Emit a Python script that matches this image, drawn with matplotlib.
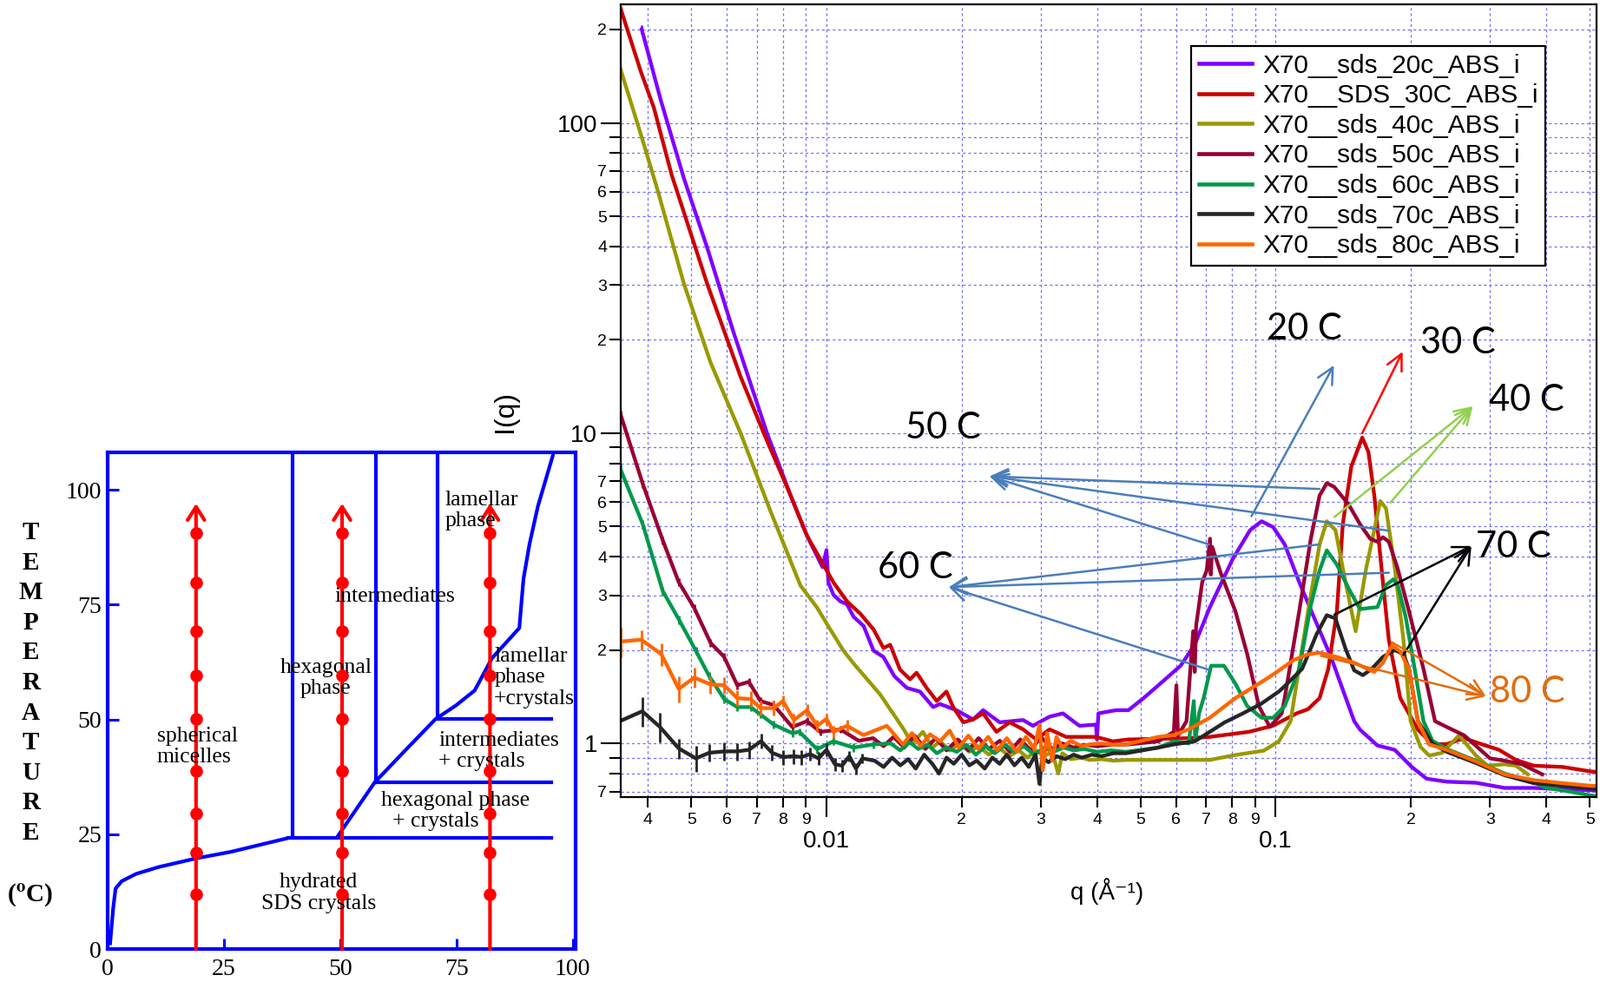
import matplotlib
matplotlib.use('Agg')
from matplotlib import pyplot as plt
from matplotlib.ticker import FixedLocator, FixedFormatter

plt.rcParams['font.family'] = ['Liberation Sans', 'DejaVu Sans']
plt.rcParams['mathtext.fontset'] = 'stix'

# ---------------- phase diagram data (wt% SDS, temperature in C) ----------------
krafft_x = [0.5, 1.2, 1.7, 3.0, 6.1, 11.0, 19.1, 26.5, 38.8]
krafft_y = [0.9, 9.0, 13.2, 14.8, 16.4, 17.9, 19.8, 21.2, 24.2]
hexb_x = [49.6, 57.4, 64.0, 70.5, 74.8, 78.9, 82.6, 88.5, 89.4, 90.7, 92.5, 95.7]
hexb_y = [24.8, 36.3, 43.3, 50.1, 53.0, 56.3, 63.3, 69.9, 80.6, 88.2, 96.4, 107.4]
vert_x = [39.7, 57.6, 70.9]
vert_y0 = [24.2, 36.3, 50.1]
horiz_y = [24.2, 36.3, 50.1]
horiz_x0 = [38.8, 57.6, 71.3]
horiz_x1 = 95.3
path_x = [19.0, 50.4, 82.2]
path_T = [11.9, 21.1, 29.5, 38.7, 50.1, 59.6, 69.2, 79.8, 90.6]
path_top = 97.0

# ---------------- SAXS curves ----------------
labels = ['X70__sds_20c_ABS_i', 'X70__SDS_30C_ABS_i', 'X70__sds_40c_ABS_i',
          'X70__sds_50c_ABS_i', 'X70__sds_60c_ABS_i', 'X70__sds_70c_ABS_i',
          'X70__sds_80c_ABS_i']
colors = ['#7F00FF', '#CC0000', '#999900', '#990033', '#00994C', '#262626', '#FF6600']

q20 = [0.00388, 0.00428, 0.00482, 0.00543, 0.00622, 0.00738, 0.00832, 0.00905, 0.0098, 0.0100,
       0.0101, 0.01037, 0.01074, 0.01111, 0.01149, 0.0121, 0.01273, 0.01339, 0.01415, 0.0151,
       0.01614, 0.01728, 0.01789, 0.01947, 0.0212, 0.02232, 0.0243, 0.0274, 0.0288, 0.03137,
       0.0336, 0.03656, 0.0398, 0.0400, 0.0403, 0.0441, 0.047, 0.0508, 0.0548, 0.0614,
       0.066, 0.0712, 0.0802, 0.0877, 0.093, 0.0987, 0.1047, 0.1128, 0.1215, 0.1327,
       0.1495, 0.154, 0.1684, 0.184, 0.201, 0.2166, 0.2402, 0.279, 0.323, 0.375,
       0.44, 0.512]
I20 = [200, 118, 66.0, 39.5, 21.0, 9.96, 6.3, 4.67, 3.7, 4.2,
       3.3, 3.01, 2.87, 2.81, 2.56, 2.39, 1.99, 1.90, 1.65, 1.51,
       1.47, 1.31, 1.34, 1.28, 1.195, 1.28, 1.17, 1.19, 1.14, 1.22,
       1.25, 1.14, 1.15, 1.03, 1.25, 1.28, 1.28, 1.40, 1.54, 1.78,
       2.08, 2.73, 3.93, 4.87, 5.20, 4.98, 4.38, 3.31, 2.56, 1.90,
       1.18, 1.108, 0.985, 0.954, 0.839, 0.77, 0.753, 0.747, 0.719, 0.719,
       0.712, 0.706]
err20 = [7]

q30 = [0.00348, 0.00387, 0.00413, 0.00452, 0.00543, 0.00644, 0.00726, 0.00832, 0.00905, 0.01037,
       0.01111, 0.01189, 0.01273, 0.01339, 0.01386, 0.01458, 0.01535, 0.01587, 0.01671, 0.0176,
       0.0185, 0.01914, 0.02016, 0.0212, 0.02232, 0.0239, 0.02557, 0.0274, 0.0293, 0.03137,
       0.03415, 0.03656, 0.0398, 0.04335, 0.047, 0.064, 0.0713, 0.0871, 0.0985, 0.1113,
       0.118, 0.1252, 0.1309, 0.1368, 0.141, 0.1473, 0.1558, 0.1608, 0.1657, 0.1732,
       0.1785, 0.1893, 0.2072, 0.2232, 0.2402, 0.2626, 0.287, 0.3139, 0.3424, 0.375,
       0.4347, 0.504, 0.518]
I30 = [234, 145, 111.8, 68.2, 30.2, 15.2, 9.96, 6.3, 4.67, 3.30,
       2.87, 2.62, 2.33, 2.03, 2.08, 1.73, 1.61, 1.69, 1.51, 1.37,
       1.47, 1.31, 1.17, 1.195, 1.25, 1.09, 1.17, 1.11, 1.03, 1.11,
       1.05, 1.05, 1.05, 1.016, 1.03, 1.04, 1.05, 1.09, 1.14, 1.25,
       1.29, 1.40, 1.74, 2.67, 5.09, 7.81, 9.68, 8.7, 6.3, 3.31,
       2.16, 1.40, 1.108, 0.995, 0.995, 1.04, 0.995, 0.954, 0.885, 0.848,
       0.84, 0.812, 0.81]

q40 = [0.00348, 0.00387, 0.0042, 0.00482, 0.00552, 0.00644, 0.0075, 0.00875, 0.00953, 0.01,
       0.01091, 0.01149, 0.01316, 0.01483, 0.0155, 0.0164, 0.0172, 0.0179, 0.0188, 0.0198,
       0.0208, 0.0218, 0.023, 0.0242, 0.0255, 0.0268, 0.028, 0.0293, 0.0305, 0.0318,
       0.0328, 0.0335, 0.035, 0.037, 0.0385, 0.041, 0.0435, 0.0464, 0.0593, 0.0713,
       0.0806, 0.094, 0.1016, 0.1079, 0.118, 0.1252, 0.1299, 0.1358, 0.143, 0.1506,
       0.1586, 0.1709, 0.176, 0.184, 0.1924, 0.1996, 0.21, 0.2195, 0.2348, 0.2558,
       0.279, 0.296, 0.323, 0.3424, 0.364]
I40 = [149, 91, 61.3, 30.2, 16.9, 10.0, 5.62, 3.23, 2.74, 2.44,
       1.99, 1.81, 1.44, 1.115, 1.0, 1.09, 0.97, 1.016, 0.95, 1.0,
       0.94, 0.98, 0.92, 0.97, 0.91, 0.95, 0.90, 0.95, 0.91, 0.94,
       0.80, 0.93, 0.89, 0.90, 0.885, 0.89, 0.88, 0.885, 0.885, 0.885,
       0.916, 0.948, 1.016, 1.18, 2.67, 4.38, 5.20, 4.87, 3.31, 2.30,
       3.61, 6.04, 5.72, 3.69, 2.16, 1.18, 0.975, 0.914, 0.933, 1.062,
       0.914, 0.848, 0.857, 0.848, 0.795]

q50 = [0.00348, 0.0039, 0.00432, 0.00469, 0.00508, 0.00552, 0.00592, 0.00633, 0.00672, 0.00713,
       0.00763, 0.00839, 0.00905, 0.00969, 0.01074, 0.0118, 0.0127, 0.0134, 0.0141, 0.0149,
       0.0157, 0.0166, 0.0175, 0.0185, 0.0196, 0.0207, 0.0218, 0.023, 0.0243, 0.0256,
       0.027, 0.0285, 0.03, 0.0318, 0.0335, 0.0355, 0.0375, 0.04, 0.043, 0.047,
       0.0548, 0.0593, 0.0601, 0.0606, 0.0633, 0.0655, 0.0660, 0.0665, 0.0686, 0.0702,
       0.0714, 0.0717, 0.0722, 0.0755, 0.0813, 0.0864, 0.0917, 0.097, 0.1031, 0.1047,
       0.1128, 0.1197, 0.1252, 0.1299, 0.1348, 0.1451, 0.154, 0.1622, 0.1684, 0.1732,
       0.1785, 0.1865, 0.1979, 0.2132, 0.2262, 0.2402, 0.2626, 0.3, 0.323, 0.3533,
       0.392]
I50 = [11.5, 6.87, 4.52, 3.31, 2.73, 2.11, 1.90, 1.54, 1.58, 1.37,
       1.33, 1.13, 1.18, 1.09, 1.11, 1.02, 1.04, 0.98, 1.05, 0.97,
       1.06, 0.96, 1.04, 0.95, 1.03, 0.95, 1.04, 0.96, 1.02, 0.94,
       1.03, 0.95, 1.05, 0.96, 1.0, 0.97, 0.99, 0.98, 0.99, 0.993,
       1.016, 1.09, 1.54, 1.06, 1.18, 2.3, 1.7, 2.4, 3.31, 3.61,
       4.57, 3.5, 4.3, 3.53, 2.67, 1.94, 1.32, 1.13, 1.25, 1.40,
       2.67, 4.57, 6.3, 6.90, 6.72, 5.91, 5.09, 4.57, 4.47, 4.62,
       4.47, 3.69, 2.67, 1.74, 1.18, 1.13, 1.062, 0.895, 0.88, 0.857,
       0.795]
err50 = [0.35, 0.2, 0.13, 0.1, 0.08, 0.06, 0.055, 0.045, 0.045, 0.04, 0.04, 0.035, 0.035, 0.03, 0.03]

q60 = [0.00348, 0.0039, 0.00432, 0.0047, 0.00512, 0.00548, 0.00592, 0.00633, 0.00678, 0.00713,
       0.00763, 0.00839, 0.0087, 0.00953, 0.01037, 0.01149, 0.01273, 0.0139, 0.0146, 0.0153,
       0.016, 0.0168, 0.0176, 0.0185, 0.0195, 0.0205, 0.0215, 0.0226, 0.0237, 0.025,
       0.0262, 0.0275, 0.029, 0.0305, 0.032, 0.0337, 0.0355, 0.0375, 0.04, 0.043,
       0.0464, 0.0548, 0.0593, 0.064, 0.0657, 0.0662, 0.0675, 0.0691, 0.0718, 0.0767,
       0.0813, 0.0864, 0.093, 0.0987, 0.1047, 0.1128, 0.1197, 0.1252, 0.1299, 0.1368,
       0.1451, 0.154, 0.1608, 0.1684, 0.176, 0.1827, 0.1869, 0.1946, 0.2038, 0.2132,
       0.2232, 0.2402, 0.2558, 0.279, 0.323, 0.375, 0.4, 0.45, 0.512]
I60 = [7.65, 5.09, 3.10, 2.50, 1.99, 1.65, 1.39, 1.31, 1.31, 1.24,
       1.15, 1.08, 1.09, 0.959, 1.016, 0.97, 0.993, 1.0, 0.95, 1.01,
       0.96, 0.99, 0.93, 0.97, 0.94, 0.99, 0.92, 0.98, 0.93, 0.99,
       0.94, 0.98, 0.92, 0.97, 0.94, 0.97, 0.95, 0.96, 0.94, 0.95,
       0.94, 0.97, 1.016, 1.0, 1.37, 1.02, 1.25, 1.40, 1.78, 1.78,
       1.56, 1.32, 1.21, 1.21, 1.32, 1.74, 2.79, 3.61, 4.19, 3.77,
       3.17, 2.71, 2.73, 2.75, 3.24, 3.38, 3.24, 2.56, 1.74, 1.18,
       1.02, 0.96, 0.925, 0.88, 0.80, 0.75, 0.72, 0.70, 0.677]
err60 = [0.25, 0.17, 0.10, 0.08, 0.06, 0.05, 0.045, 0.04, 0.04, 0.035, 0.035, 0.03, 0.03, 0.03, 0.03, 0.03, 0.03]

q70 = [0.00347, 0.00389, 0.00426, 0.00469, 0.00512, 0.00548, 0.00592, 0.00633, 0.00672, 0.00715,
       0.00757, 0.008, 0.00845, 0.0088, 0.0092, 0.0096, 0.01, 0.01044, 0.01083, 0.01124,
       0.01163, 0.01202, 0.0128, 0.0134, 0.014, 0.0146, 0.0152, 0.0158, 0.0165, 0.0172,
       0.0178, 0.0185, 0.0192, 0.02, 0.0208, 0.0216, 0.0225, 0.0234, 0.0243, 0.0252,
       0.0262, 0.0272, 0.0282, 0.0292, 0.0298, 0.0302, 0.0312, 0.0325, 0.034, 0.0355,
       0.037, 0.039, 0.041, 0.0435, 0.0464, 0.0548, 0.0593, 0.066, 0.0713, 0.077,
       0.0845, 0.0926, 0.1016, 0.1047, 0.1145, 0.1233, 0.1299, 0.1358, 0.143, 0.1495,
       0.1563, 0.1636, 0.1732, 0.184, 0.1924, 0.1979, 0.2072, 0.2232, 0.2402, 0.279,
       0.323, 0.375, 0.4347, 0.504, 0.518]
I70 = [1.18, 1.27, 1.13, 0.964, 0.895, 0.933, 0.943, 0.943, 0.954, 1.017,
       0.933, 0.904, 0.91, 0.904, 0.924, 0.895, 0.954, 0.857, 0.848, 0.91,
       0.83, 0.895, 0.88, 0.84, 0.90, 0.85, 0.89, 0.83, 0.92, 0.86,
       0.80, 0.90, 0.86, 0.92, 0.85, 0.88, 0.83, 0.90, 0.86, 0.92,
       0.85, 0.90, 0.84, 0.92, 0.74, 0.90, 0.87, 0.91, 0.89, 0.92,
       0.90, 0.92, 0.91, 0.93, 0.93, 0.97, 0.993, 1.016, 1.09, 1.17,
       1.25, 1.34, 1.47, 1.53, 1.74, 2.25, 2.59, 2.53, 2.02, 1.72,
       1.66, 1.74, 1.90, 2.0, 1.94, 1.74, 1.18, 1.0, 0.94, 0.865,
       0.79, 0.745, 0.73, 0.715, 0.715]
err70 = [0.12, 0.14, 0.125, 0.07, 0.087, 0.06, 0.065, 0.06, 0.06, 0.055, 0.055, 0.05, 0.05, 0.05,
         0.045, 0.045, 0.045, 0.04, 0.04, 0.035, 0.035, 0.03]

q80 = [0.00348, 0.00387, 0.00429, 0.00469, 0.00508, 0.00552, 0.00592, 0.00633, 0.00678, 0.00713,
       0.00763, 0.008, 0.00846, 0.00905, 0.00953, 0.01, 0.01037, 0.01111, 0.01209, 0.0128,
       0.01362, 0.0148, 0.0155, 0.0162, 0.017, 0.0179, 0.0188, 0.0197, 0.0207, 0.0218,
       0.0229, 0.024, 0.0252, 0.0265, 0.0278, 0.029, 0.0298, 0.0303, 0.031, 0.0318,
       0.0325, 0.0335, 0.035, 0.037, 0.0385, 0.041, 0.0435, 0.0464, 0.0548, 0.0593,
       0.064, 0.0713, 0.0813, 0.0944, 0.1, 0.1098, 0.1185, 0.1252, 0.1368, 0.1495,
       0.1657, 0.1732, 0.1814, 0.1893, 0.1979, 0.2072, 0.2194, 0.2402, 0.279, 0.323,
       0.375, 0.4347, 0.504, 0.518]
I80 = [2.13, 2.16, 1.94, 1.50, 1.63, 1.55, 1.54, 1.40, 1.39, 1.30,
       1.30, 1.37, 1.19, 1.28, 1.14, 1.2, 1.09, 1.14, 1.064, 1.1,
       1.14, 0.993, 1.08, 0.98, 1.07, 1.016, 1.1, 0.97, 1.06, 0.96,
       1.05, 0.95, 1.04, 0.94, 1.05, 0.96, 1.15, 0.82, 1.08, 0.88,
       1.05, 0.97, 1.02, 0.98, 0.993, 1.0, 0.99, 0.993, 1.05, 1.064,
       1.11, 1.21, 1.40, 1.60, 1.69, 1.86, 1.94, 1.96, 1.90, 1.82,
       1.70, 1.82, 2.07, 1.98, 1.74, 1.18, 0.993, 0.954, 0.875, 0.795,
       0.762, 0.745, 0.73, 0.73]
err80 = [0.23, 0.16, 0.16, 0.14, 0.12, 0.10, 0.09, 0.08, 0.08, 0.07, 0.07, 0.06, 0.06, 0.06,
         0.05, 0.05, 0.05, 0.05]

curves = [(q20, I20, err20), (q30, I30, []), (q40, I40, []), (q50, I50, err50),
          (q60, I60, err60), (q70, I70, err70), (q80, I80, err80)]

# temperature labels and arrows pointing to peaks
tag_text = ['20 C', '30 C', '40 C', '50 C', '60 C', '70 C', '80 C']
tag_pos = [(0.116, 21.6), (0.254, 19.5), (0.362, 12.8), (0.0182, 10.4),
           (0.0158, 3.69), (0.3375, 4.31), (0.363, 1.462)]
tag_color = ['black'] * 6 + ['#E46C0A']
arrow_head = [(0.1347, 16.55), (0.1916, 18.31), (0.2745, 12.21), (0.02307, 7.26),
              (0.01873, 3.19), (0.2726, 4.33), (0.2936, 1.419)]
arrow_tails = [[(0.0883, 5.40)],
               [(0.1558, 10.0)],
               [(0.1351, 5.37), (0.1800, 5.97)],
               [(0.1251, 6.61), (0.1786, 4.85), (0.0710, 4.38)],
               [(0.1251, 4.38), (0.1786, 3.55), (0.0710, 1.728)],
               [(0.1351, 2.60), (0.1924, 1.93)],
               [(0.1261, 1.916), (0.1813, 2.12)]]
arrow_color = ['#4A7EBB', '#FF0000', '#92D050', '#4A7EBB', '#4A7EBB', 'black', '#E46C0A']

W, H = 1843, 1131
fig = plt.figure(figsize=(W / 100, H / 100), dpi=100)

# ================= left: phase diagram =================
blue = '#0000FF'
serif = 'Liberation Serif'
pd = fig.add_axes([124 / W, 1 - 1093.3 / H, (663 - 124) / W, (1093.3 - 520.6) / H])
pd.set_xlim(0, 100.6)
pd.set_ylim(0, 108.2)
for s in pd.spines.values():
    s.set_color(blue)
    s.set_linewidth(3)
pd.plot(krafft_x, krafft_y, color=blue, lw=3, solid_capstyle='butt')
pd.plot(hexb_x, hexb_y, color=blue, lw=3)
for x0, y0 in zip(vert_x, vert_y0):
    pd.plot([x0, x0], [y0, 108.2], color=blue, lw=3)
for y0, x0 in zip(horiz_y, horiz_x0):
    pd.plot([x0, horiz_x1], [y0, y0], color=blue, lw=3)
for x in path_x:
    pd.annotate('', xy=(x, path_top), xytext=(x, 0),
                arrowprops=dict(arrowstyle='->,head_length=0.55,head_width=0.35',
                                color='red', lw=3, mutation_scale=20, shrinkA=0, shrinkB=0))
    pd.plot([x] * len(path_T), path_T, 'o', color='red', ms=9.5, zorder=4)

pd.set_xticks([0, 25, 50, 75, 100])
pd.set_yticks([0, 25, 50, 75, 100])
pd.tick_params(direction='in', length=9, width=2.2, color=blue, labelsize=20)
pd.tick_params(axis='x', pad=8)
pd.tick_params(axis='y', pad=5)
for lab in pd.get_xticklabels() + pd.get_yticklabels():
    lab.set_family(serif)

region_kw = dict(family=serif, fontsize=18.5, va='center', linespacing=1.15)
pd.text(10.6, 44.1, 'spherical\nmicelles', ha='left', **region_kw)
pd.text(46.9, 59.0, 'hexagonal\nphase', ha='center', multialignment='center', **region_kw)
pd.text(61.8, 76.7, 'intermediates', ha='center', **region_kw)
pd.text(72.5, 95.5, 'lamellar\nphase', ha='left', **region_kw)
pd.text(83.1, 59.1, 'lamellar\nphase\n+crystals', ha='left', **region_kw)
pd.text(71.2, 43.1, 'intermediates\n+ crystals', ha='left', **region_kw)
pd.text(58.7, 30.1, 'hexagonal phase\n  + crystals', ha='left', **region_kw)
pd.text(45.4, 12.2, 'hydrated\nSDS crystals', ha='center', multialignment='center', **region_kw)

for i, ch in enumerate('TEMPERATURE'):
    fig.text(35.7 / W, 1 - (613.5 + 34.6 * i) / H, ch, ha='center', va='center',
             family=serif, fontsize=21, fontweight='bold')
fig.text(35 / W, 1 - 1031 / H, r'($^{\mathbf{o}}$C)', ha='center', va='center',
         family=serif, fontsize=21, fontweight='bold')

# ================= right: scattering curves =================
ax = fig.add_axes([714.5 / W, 1 - 917.5 / H, (1839.3 - 714.5) / W, (917.5 - 5) / H])
ax.set_xscale('log')
ax.set_yscale('log')

for (q, I, err), c, lab in zip(curves, colors, labels):
    ax.plot(q, I, color=c, lw=3.1, label=lab, solid_joinstyle='round')
    if err:
        n = len(err)
        ax.errorbar(q[:n], I[:n], yerr=err, fmt='none', ecolor=c, elinewidth=2, capsize=0)

ax.set_xlim(0.003476, 0.5183)
ax.set_ylim(0.674, 241)

xmaj = [0.01, 0.1]
xmin = [0.004, 0.005, 0.006, 0.007, 0.008, 0.009,
        0.02, 0.03, 0.04, 0.05, 0.06, 0.07, 0.08, 0.09,
        0.2, 0.3, 0.4, 0.5]
ax.xaxis.set_major_locator(FixedLocator(xmaj))
ax.xaxis.set_major_formatter(FixedFormatter(['0.01', '0.1']))
ax.xaxis.set_minor_locator(FixedLocator(xmin))
ax.xaxis.set_minor_formatter(FixedFormatter(['4', '5', '6', '7', '8', '9',
                                             '2', '3', '4', '5', '6', '7', '8', '9',
                                             '2', '3', '4', '5']))
ymaj = [1, 10, 100]
ymin = [0.7, 0.8, 0.9, 2, 3, 4, 5, 6, 7, 8, 9, 20, 30, 40, 50, 60, 70, 80, 90, 200]
ax.yaxis.set_major_locator(FixedLocator(ymaj))
ax.yaxis.set_major_formatter(FixedFormatter(['1', '10', '100']))
ax.yaxis.set_minor_locator(FixedLocator(ymin))
ax.yaxis.set_minor_formatter(FixedFormatter(['7', '', '', '2', '3', '4', '5', '6', '7', '', '',
                                             '2', '3', '4', '5', '6', '7', '', '', '2']))

ax.tick_params(axis='x', which='major', direction='out', length=16.5, width=1.5,
               labelsize=20, pad=11)
ax.tick_params(axis='x', which='minor', direction='out', length=8.6, width=1.5,
               labelsize=14, pad=5)
ax.tick_params(axis='y', which='major', direction='out', length=16.5, width=1.5,
               labelsize=20, pad=2.5)
ax.tick_params(axis='y', which='minor', direction='out', length=9.4, width=1.5,
               labelsize=14, pad=1.5)
for s in ax.spines.values():
    s.set_linewidth(1.6)

ax.grid(True, which='both', color='#7070FF', linestyle=(0, (2.5, 2.5)), lw=0.9)
ax.set_axisbelow(True)

for txt, pos, tc, head, tails, ac in zip(tag_text, tag_pos, tag_color,
                                         arrow_head, arrow_tails, arrow_color):
    ax.text(pos[0], pos[1], txt, ha='center', va='center', fontsize=30,
            family=['Lato', 'DejaVu Sans'], color=tc, zorder=6)
    for t in tails:
        ax.annotate('', xy=head, xytext=t,
                    arrowprops=dict(arrowstyle='->,head_length=0.6,head_width=0.3',
                                    color=ac, lw=1.8, mutation_scale=22,
                                    shrinkA=0, shrinkB=0), zorder=6)

leg = ax.legend(loc='upper left', bbox_to_anchor=(1371.7 / W, 1 - 52.9 / H),
                bbox_transform=fig.transFigure, fontsize=21.4, frameon=True,
                fancybox=False, framealpha=1, edgecolor='black', borderpad=0.3,
                labelspacing=0.22, handlelength=2.07, handletextpad=0.4,
                borderaxespad=0)
leg.get_frame().set_linewidth(1.6)
for h in leg.get_lines():
    h.set_linewidth(3.3)

fig.text(1275 / W, 1 - 1027 / H, 'q (Å⁻¹)', ha='center', va='center', fontsize=20)
fig.text(582 / W, 1 - 474 / H, 'I(q)', ha='center', va='center', fontsize=23, rotation=90)

fig.savefig('out.png', dpi=100)
